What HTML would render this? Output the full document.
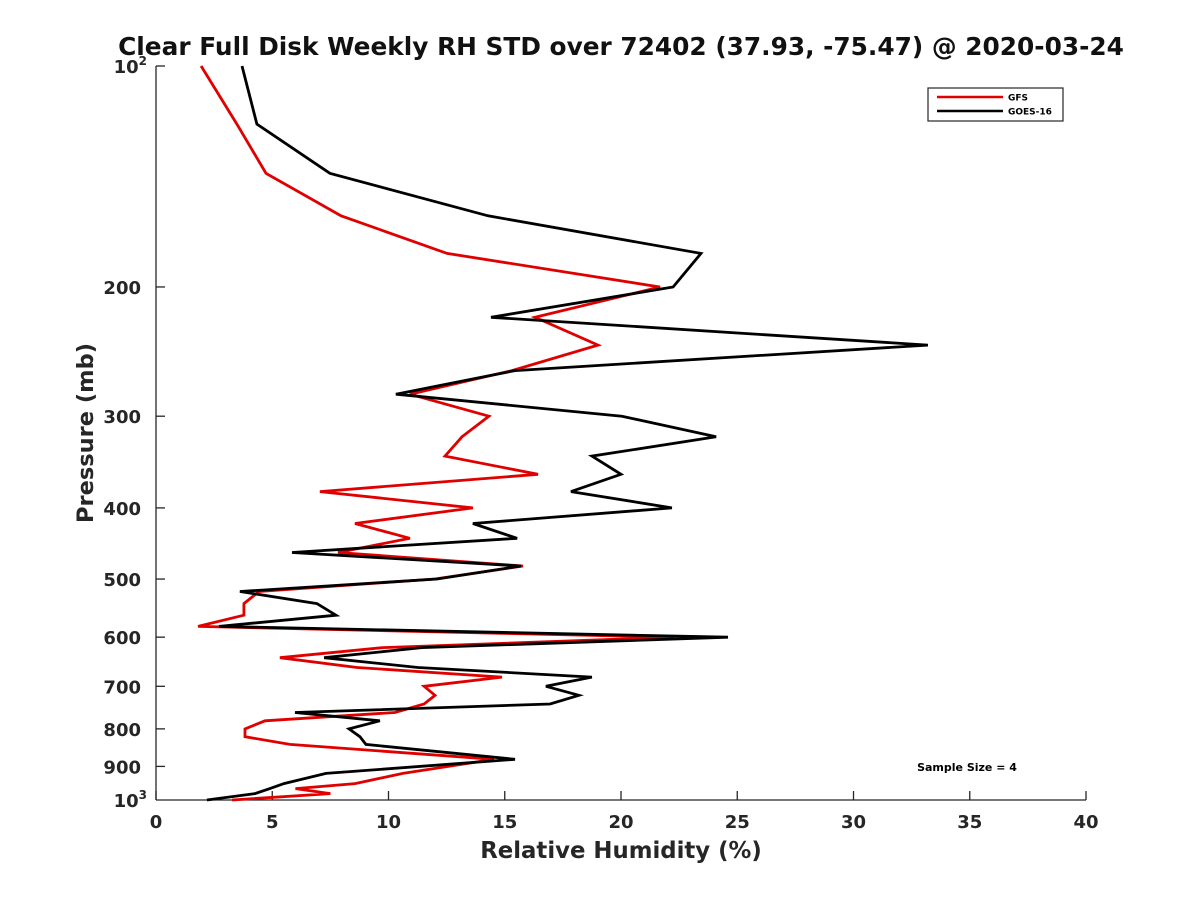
<!DOCTYPE html>
<html><head><meta charset="utf-8"><style>
body{margin:0;background:#fff;}
svg{display:block;font-family:"DejaVu Sans","Liberation Sans",sans-serif;}
</style></head><body>
<svg id="chart" width="1200" height="900">
<rect width="1200" height="900" fill="#fff"/>
<text x="621" y="55" text-anchor="middle" font-size="24.8" font-weight="bold" fill="#111">Clear Full Disk Weekly RH STD over 72402 (37.93, -75.47) @ 2020-03-24</text>
<g id="axes"></g>
<g id="series"></g>
<text x="621" y="858" text-anchor="middle" font-size="22.8" font-weight="bold" fill="#262626">Relative Humidity (%)</text>
<text transform="translate(93,433) rotate(-90)" text-anchor="middle" font-size="22.5" font-weight="bold" fill="#262626">Pressure (mb)</text>
<g>
<rect x="928" y="88" width="135" height="33" fill="#fff" stroke="#262626" stroke-width="1.2"/>
<line x1="937" y1="97" x2="1003" y2="97" stroke="#e00000" stroke-width="2.5"/>
<text x="1008" y="100.5" font-size="9" font-weight="bold">GFS</text>
<line x1="937" y1="111" x2="1003" y2="111" stroke="#000" stroke-width="2.5"/>
<text x="1008" y="114.5" font-size="9" font-weight="bold">GOES-16</text>
</g>
<text x="967" y="771" text-anchor="middle" font-size="11" font-weight="bold">Sample Size = 4</text>
</svg>
<script>
const levels=[100,120,140,160,180,200,220,240,260,280,300,320,340,360,380,400,420,440,460,480,500,520,540,560,580,600,620,640,660,680,700,720,740,760,780,800,820,840,880,920,950,965,980,1000];
const goes=[3.70,4.34,7.48,14.28,23.44,22.24,14.41,33.20,15.44,10.32,20.04,24.09,18.75,20.0,17.85,22.19,13.63,15.53,5.85,15.70,12.09,3.61,6.92,7.74,2.71,24.60,11.44,7.23,11.27,18.75,16.77,18.19,16.95,5.98,9.63,8.30,8.77,9.03,15.44,7.31,5.5,4.9,4.26,2.19];
const gfs=[1.94,3.48,4.73,7.96,12.52,21.68,16.30,19.01,15.31,10.92,14.32,13.16,12.43,16.43,7.05,13.63,8.56,10.92,7.83,15.78,12.0,4.43,3.78,3.78,1.81,22.28,9.76,5.33,8.65,14.88,11.53,12.0,11.53,10.28,4.69,3.83,3.83,5.76,14.54,10.62,8.56,6.0,7.5,3.27];
const xTicks=[0,5,10,15,20,25,30,35,40];
const yTicks=[200,300,400,500,600,700,800,900];
const NS='http://www.w3.org/2000/svg';
const X=v=>156+v*23.25;
const Y=p=>66+734*Math.log10(p/100);
function mk(t,a,parent){const e=document.createElementNS(NS,t);for(const k in a)e.setAttribute(k,a[k]);parent.appendChild(e);return e;}
const ax=document.getElementById('axes');
const sr=document.getElementById('series');
const axc='#262626';
const yl=mk('line',{x1:156,y1:66,x2:156,y2:800,stroke:axc,'stroke-width':1.3},ax);


const xl=mk('line',{x1:156,y1:800,x2:1086,y2:800,stroke:axc,'stroke-width':1.3},ax);


xTicks.forEach(v=>{
 mk('line',{x1:X(v),y1:800,x2:X(v),y2:791,stroke:axc,'stroke-width':1.3},ax);
 const t=mk('text',{x:X(v),y:828,'text-anchor':'middle','font-size':18,'font-weight':'bold',fill:axc},ax);
 t.textContent=v;
 
 
});
mk('line',{x1:156,y1:66,x2:165,y2:66,stroke:axc,'stroke-width':1.3},ax);
yTicks.forEach(p=>{
 mk('line',{x1:156,y1:Y(p),x2:165,y2:Y(p),stroke:axc,'stroke-width':1.3},ax);
 const t=mk('text',{x:141,y:Y(p)+7,'text-anchor':'end','font-size':18,'font-weight':'bold',fill:axc},ax);
 t.textContent=p;
 
 
});
[[100,'2'],[1000,'3']].forEach(([p,e])=>{
 const t=mk('text',{x:147,y:Y(p)+7,'text-anchor':'end','font-size':18,'font-weight':'bold',fill:axc},ax);
 t.innerHTML='10<tspan dy="-8" font-size="12">'+e+'</tspan>';
 
 
});
function draw(vals,color,name){
 const pts=vals.map((v,i)=>X(v).toFixed(1)+','+Y(levels[i]).toFixed(1)).join(' ');
 const pl=mk('polyline',{points:pts,fill:'none',stroke:color,'stroke-width':2.8,'stroke-linejoin':'miter','stroke-miterlimit':4},sr);
 
 
}
draw(gfs,'#e00000','gfs-line');
draw(goes,'#000000','goes16-line');
</script>
</body></html>
